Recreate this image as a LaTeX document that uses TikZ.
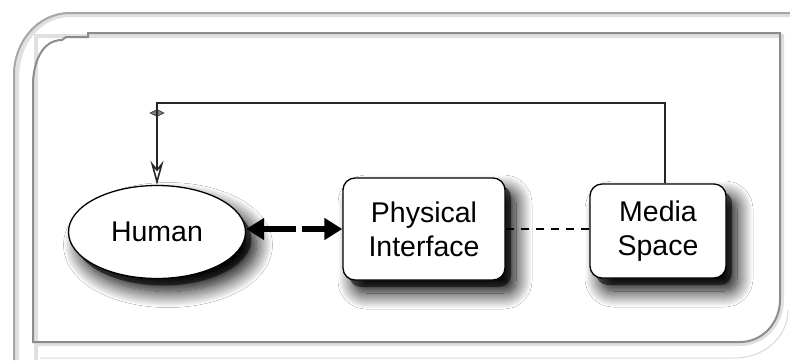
\documentclass[tikz,border=0pt]{standalone}
\usepackage{fontspec}
\setmainfont{Liberation Sans}
\usetikzlibrary{shapes.geometric,arrows.meta,shadows,shadows.blur}
\tikzset{
  frameline/.style={draw=black!45, line width=2pt},
  nodeshadow/.style={
    blur shadow={shadow xshift=11pt, shadow yshift=-13pt, shadow blur radius=16pt, shadow blur steps=18, shadow opacity=100},
    general shadow={shadow xshift=6pt, shadow yshift=-7pt, fill=black, opacity=0.55}},
  boxnode/.style={draw=black, line width=1.3pt, fill=white, rounded corners=12pt, align=center, inner sep=0pt, nodeshadow, font=\fontsize{28.5}{34}\selectfont},
  ellnode/.style={ellipse, draw=black, line width=1.3pt, fill=white, inner sep=0pt, nodeshadow, font=\fontsize{28.5}{34}\selectfont},
  bigarrow/.style={line width=6.5pt, -{Triangle[length=18pt,width=21pt]}},
  feedback/.style={line width=1.5pt, black!85},
  dashline/.style={line width=1.5pt, dash pattern=on 8pt off 7pt},
}
\begin{document}
\begin{tikzpicture}[x=1pt,y=-1pt]
\useasboundingbox (0,0) rectangle (790,360);
% background frame
\fill[white] (0,0) rectangle (790,360);
\draw[black!12, line width=4pt] (790,15) -- (70,15) to[out=180,in=90] (17,77) -- (17,360);
\draw[frameline, black!35] (790,13) -- (70,13) to[out=180,in=90] (14,75) -- (14,360);
\draw[black!15, line width=1pt] (40,358) -- (735,358) to[out=0,in=-90] (788,310);
\draw[black!12, line width=4pt] (36,360) -- (36,36) -- (782,36) -- (782,300) to[out=-90,in=0]  (740,344) -- (36,344);
\draw[frameline] (33,342) -- (33,85) to[out=90,in=180] (62,40) -- (66,37) -- (88,37) -- (88,33) -- (780,33) -- (780,300) to[out=-90,in=0] (740,342) -- cycle;
% nodes
\node[ellnode, minimum width=177pt, minimum height=93pt] (human) at (157,232) {Human};
\node[boxnode, minimum width=162pt, minimum height=102pt] (phys) at (424,229) {Physical\\Interface};
\node[boxnode, minimum width=136pt, minimum height=94pt] (media) at (658,231) {Media\\Space};
% feedback loop
\coordinate (corner1) at (665,103);
\coordinate (corner2) at (157,103);
\node[diamond, draw=black!75, fill=black!50, line width=0.8pt, minimum width=14pt, minimum height=7pt, inner sep=0pt] (mark) at (157,113) {};
\draw[feedback] (media.north -| corner1) -- (corner1) -- (corner2) -- (mark.center);
\draw[feedback, -{Stealth[length=24pt,width=13pt,inset=8pt,open,fill=white,line width=1.6pt]}] (mark.center) -- (human.north);
% bidirectional thick arrow
\coordinate (gapl) at (296,229);
\coordinate (gapr) at (302,229);
\draw[bigarrow] (gapl) -- (human.east |- gapl);
\draw[bigarrow] (gapr) -- (phys.west |- gapr);
% dashed link
\draw[dashline] (phys.east) -- (media.west |- phys.east);
\end{tikzpicture}
\end{document}
